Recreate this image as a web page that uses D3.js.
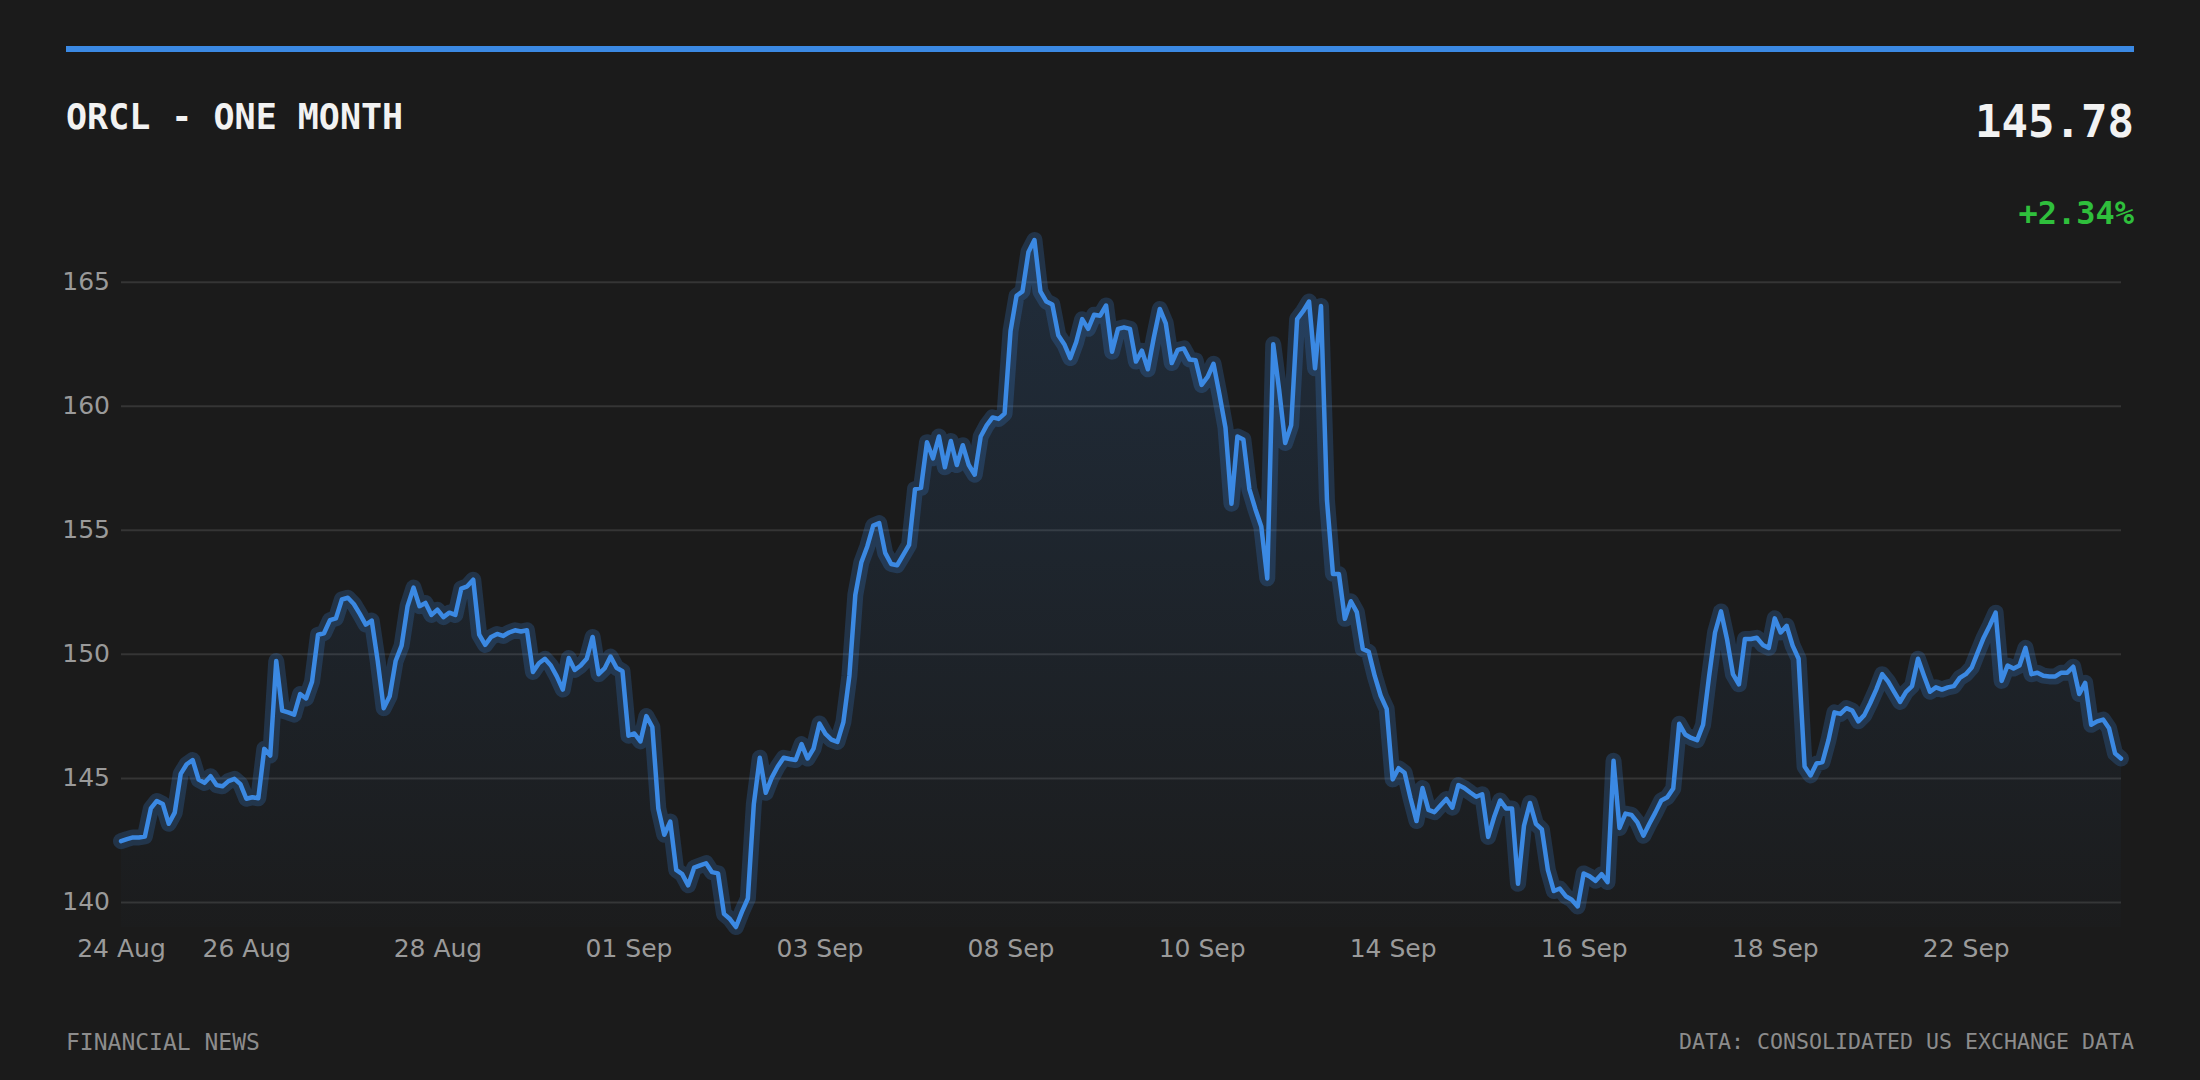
<!DOCTYPE html>
<html lang="en">

<head>
  <meta charset="UTF-8">
  <title>ORCL - One Month</title>
  <script src="https://cdn.jsdelivr.net/npm/d3@7.6.1/dist/d3.min.js"></script>
  <style>
    html, body {
      margin: 0;
      padding: 0;
      background: #1b1b1b;
    }
    svg {
      display: block;
    }
  </style>
</head>

<body>
  <div id="chart"></div>
  <script>
    const width = 2200
    const height = 1080
    const plot = { left: 121, right: 2121, top: 240, bottom: 927 }

    // price readings, one per interval, left to right
    const pricesA = [
      142.45, 142.53, 142.6, 142.6, 142.64, 143.77, 144.07, 143.95, 143.15, 143.6,
      145.16, 145.55, 145.72, 144.93, 144.8, 145.07, 144.71, 144.66, 144.87, 144.96,
      144.75, 144.16, 144.22, 144.18, 146.17, 145.9, 149.71, 147.71, 147.64, 147.55,
      148.38, 148.2, 148.88, 150.77, 150.83, 151.36, 151.43, 152.19, 152.26, 152.01,
      151.61, 151.18, 151.34, 149.71, 147.81, 148.29, 149.71, 150.33, 151.92, 152.67,
      151.92, 152.05, 151.57, 151.78, 151.48, 151.66, 151.57, 152.63
    ]
    const pricesB = [
      152.72, 152.99, 150.77, 150.36, 150.68, 150.8, 150.72, 150.86, 150.95, 150.9,
      150.95, 149.27, 149.62, 149.8, 149.53, 149.09, 148.56, 149.83, 149.35, 149.53,
      149.8, 150.68, 149.18, 149.41, 149.89, 149.44, 149.3, 146.7, 146.79, 146.47,
      147.49, 147.05, 143.77, 142.71, 143.24, 141.29, 141.12, 140.67, 141.38, 141.47,
      141.56, 141.2, 141.15, 139.52, 139.31, 138.99, 139.6, 140.14, 143.95, 145.81,
      144.4, 145.01, 145.46, 145.81, 145.76, 145.72
    ]
    const pricesC = [
      146.36, 145.78, 146.18, 147.19, 146.77, 146.54, 146.45, 147.25, 149.11, 152.38,
      153.68, 154.33, 155.17, 155.27, 154.07, 153.62, 153.57, 153.98, 154.39, 156.64,
      156.69, 158.53, 157.88, 158.76, 157.52, 158.58, 157.61, 158.41, 157.61, 157.22,
      158.76, 159.21, 159.53, 159.47, 159.68, 163.02, 164.43, 164.61, 166.2, 166.68,
      164.61, 164.2, 164.08, 162.84, 162.48, 161.92, 162.57, 163.49, 163.1, 163.67,
      163.63, 164.04, 162.18, 163.1, 163.16, 163.1, 161.78
    ]
    const pricesD = [
      162.22, 161.47, 162.75, 163.9, 163.32, 161.72, 162.25, 162.31, 161.86, 161.83,
      160.84, 161.16, 161.69, 160.45, 159.12, 156.05, 158.76, 158.64, 156.64, 155.84,
      155.13, 153.04, 162.48, 160.62, 158.5, 159.21, 163.49, 163.81, 164.2, 161.51,
      164.02, 156.19, 153.22, 153.22, 151.41, 152.12, 151.68, 150.2, 150.08, 149.11,
      148.31, 147.78, 144.94, 145.39, 145.21, 144.18, 143.26, 144.59, 143.71, 143.62,
      143.89, 144.15, 143.8, 144.71, 144.59, 144.41, 144.24
    ]
    const pricesE = [
      144.34, 142.62, 143.42, 144.09, 143.77, 143.77, 140.73, 143.07, 143.99, 143.15,
      142.92, 141.29, 140.44, 140.54, 140.23, 140.09, 139.82, 141.15, 141.03, 140.85,
      141.12, 140.8, 145.69, 142.98, 143.56, 143.51, 143.21, 142.67, 143.15, 143.6,
      144.09, 144.22, 144.57, 147.18, 146.75, 146.61, 146.52, 147.14, 149.09, 150.86,
      151.71, 150.6, 149.18, 148.77, 150.6, 150.6, 150.65, 150.36, 150.24, 151.43,
      150.86, 151.13, 150.33, 149.8, 145.46, 145.1, 145.58
    ]
    const pricesF = [
      145.64, 146.52, 147.64, 147.58, 147.81, 147.71, 147.28, 147.53, 148.02, 148.56,
      149.18, 148.88, 148.47, 148.06, 148.47, 148.7, 149.8, 149.12, 148.47, 148.65,
      148.56, 148.65, 148.7, 149.03, 149.18, 149.45, 150.06, 150.65, 151.13, 151.66,
      148.91, 149.53, 149.41, 149.53, 150.24, 149.18, 149.24, 149.12, 149.09, 149.09,
      149.24, 149.24, 149.48, 148.38, 148.83, 147.14, 147.28, 147.35, 147.0, 145.99,
      145.78
    ]
    const prices = [].concat(pricesA, pricesB, pricesC, pricesD, pricesE, pricesF)

    // x ticks sit on interval indices (trading gaps are collapsed)
    const tickIdx = [0, 21, 53, 85, 117, 149, 181, 213, 245, 277, 309]
    const tickLabels = ['24 Aug', '26 Aug', '28 Aug', '01 Sep', '03 Sep', '08 Sep',
      '10 Sep', '14 Sep', '16 Sep', '18 Sep', '22 Sep']
    const yTicks = [140, 145, 150, 155, 160, 165]

    const title = 'ORCL - ONE MONTH'
    const lastPrice = '145.78'
    const change = '+2.34%'
    const source = 'DATA: CONSOLIDATED US EXCHANGE DATA'
    const brand = 'FINANCIAL NEWS'

    const blue = '#3b89e3'
    const mono = '"DejaVu Sans Mono", monospace'
    const sans = '"DejaVu Sans", sans-serif'

    const x = d3.scaleLinear().domain([0, prices.length - 1]).range([plot.left, plot.right])
    const y = d3.scaleLinear().domain(d3.extent(prices)).range([plot.bottom, plot.top])

    const svg = d3.select('#chart').append('svg')
      .attr('width', width)
      .attr('height', height)

    svg.append('rect').attr('width', width).attr('height', height).attr('fill', '#1b1b1b')

    const defs = svg.append('defs')
    const grad = defs.append('linearGradient')
      .attr('id', 'fillGrad')
      .attr('gradientUnits', 'userSpaceOnUse')
      .attr('x1', 0).attr('x2', 0)
      .attr('y1', plot.top).attr('y2', plot.bottom)
    grad.append('stop').attr('offset', '0%').attr('stop-color', blue).attr('stop-opacity', 0.16)
    grad.append('stop').attr('offset', '100%').attr('stop-color', blue).attr('stop-opacity', 0.01)

    // header
    svg.append('rect')
      .attr('x', 66).attr('y', 46)
      .attr('width', 2134 - 66).attr('height', 6)
      .attr('fill', blue)

    svg.append('text')
      .attr('x', 66).attr('y', 129)
      .attr('fill', '#f2f2f2')
      .attr('font-family', mono)
      .attr('font-weight', 'bold')
      .attr('font-size', 35)
      .text(title)

    svg.append('text')
      .attr('x', 2134).attr('y', 137)
      .attr('text-anchor', 'end')
      .attr('fill', '#f2f2f2')
      .attr('font-family', mono)
      .attr('font-weight', 'bold')
      .attr('font-size', 44)
      .text(lastPrice)

    svg.append('text')
      .attr('x', 2134).attr('y', 224)
      .attr('text-anchor', 'end')
      .attr('fill', '#2fbf3c')
      .attr('font-family', mono)
      .attr('font-weight', 'bold')
      .attr('font-size', 32)
      .text(change)

    // y grid + labels
    const yAxis = svg.append('g')
      .attr('transform', `translate(${plot.left},0)`)
      .call(d3.axisLeft(y).tickValues(yTicks).tickSize(-(plot.right - plot.left)).tickPadding(11))
    yAxis.select('.domain').remove()
    yAxis.selectAll('.tick line').attr('stroke', '#353535').attr('stroke-width', 2)
    yAxis.selectAll('.tick text')
      .attr('fill', '#9a9a9a')
      .attr('font-family', sans)
      .attr('font-size', 25)

    // x labels
    const xAxis = svg.append('g')
      .attr('transform', `translate(0,${plot.bottom})`)
      .call(d3.axisBottom(x).tickValues(tickIdx).tickFormat((d, i) => tickLabels[i]).tickSize(0).tickPadding(12))
    xAxis.select('.domain').remove()
    xAxis.selectAll('.tick text')
      .attr('fill', '#9a9a9a')
      .attr('font-family', sans)
      .attr('font-size', 25)

    // area + glowing line
    const area = d3.area()
      .x((d, i) => x(i))
      .y0(plot.bottom)
      .y1(d => y(d))
    const line = d3.line()
      .x((d, i) => x(i))
      .y(d => y(d))

    svg.append('path')
      .datum(prices)
      .attr('d', area)
      .attr('fill', 'url(#fillGrad)')

    svg.append('path')
      .datum(prices)
      .attr('d', line)
      .attr('fill', 'none')
      .attr('stroke', blue)
      .attr('stroke-opacity', 0.22)
      .attr('stroke-width', 16)
      .attr('stroke-linejoin', 'round')
      .attr('stroke-linecap', 'round')

    svg.append('path')
      .datum(prices)
      .attr('d', line)
      .attr('fill', 'none')
      .attr('stroke', blue)
      .attr('stroke-width', 4.5)
      .attr('stroke-linejoin', 'round')
      .attr('stroke-linecap', 'round')

    // footer
    svg.append('text')
      .attr('x', 66).attr('y', 1050)
      .attr('fill', '#8c8c8c')
      .attr('font-family', mono)
      .attr('font-size', 23)
      .text(brand)

    svg.append('text')
      .attr('x', 2134).attr('y', 1049)
      .attr('text-anchor', 'end')
      .attr('fill', '#8c8c8c')
      .attr('font-family', mono)
      .attr('font-size', 21.6)
      .text(source)
  </script>
</body>

</html>
